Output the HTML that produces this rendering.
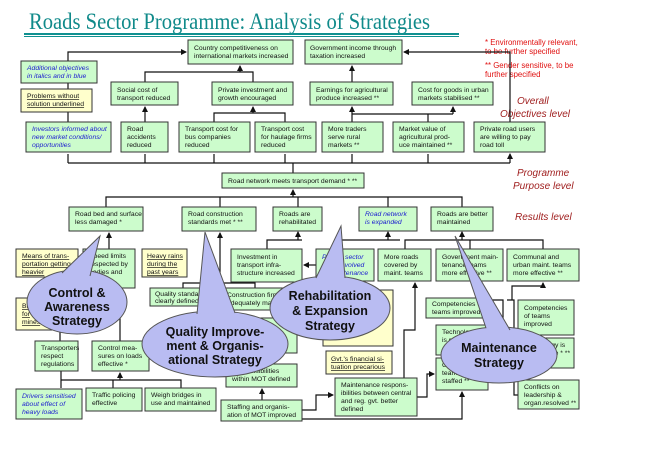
<!DOCTYPE html>
<html><head><meta charset="utf-8"><style>
html,body{margin:0;padding:0;background:#fff;width:649px;height:470px;overflow:hidden}
svg{display:block}
text{font-family:"Liberation Sans",sans-serif;font-size:6.8px;fill:#111}
.g{fill:#ccfccc;stroke:#333;stroke-width:1}
.y{fill:#ffffcc;stroke:#333;stroke-width:1}
.b{fill:#1a1ad0;font-style:italic}
.u{text-decoration:underline}
.r{fill:#e01010;font-size:7.8px}
.lv{fill:#a02020;font-style:italic;font-size:10px}
.bub{fill:#b9bcf2;stroke:#555;stroke-width:1}
.bt{font-size:12.5px;font-weight:bold;fill:#111;text-anchor:middle}
.l{fill:none;stroke:#111;stroke-width:1.2}
</style></head><body>
<svg width="649" height="470" viewBox="0 0 649 470">
<defs><marker id="a" viewBox="0 0 6 6" refX="5" refY="3" markerWidth="5" markerHeight="5" orient="auto"><path d="M0,0L6,3L0,6z" fill="#111"/></marker></defs>
<text x="29" y="29" textLength="401" lengthAdjust="spacingAndGlyphs" style="font-family:'Liberation Serif',serif;font-size:23px;fill:#108a8a">Roads Sector Programme: Analysis of Strategies</text>
<rect x="24" y="33" width="435" height="2" fill="#109090"/>
<rect x="24" y="36" width="435" height="1" fill="#109090"/>

<text class="r" x="485" y="45">* Environmentally relevant,</text>
<text class="r" x="485" y="54">to be further specified</text>
<text class="r" x="485" y="68">** Gender sensitive, to be</text>
<text class="r" x="485" y="77">further specified</text>
<text class="lv" x="517" y="104">Overall</text>
<text class="lv" x="500" y="117">Objectives level</text>
<text class="lv" x="517" y="176">Programme</text>
<text class="lv" x="513" y="189">Purpose level</text>
<text class="lv" x="515" y="220">Results level</text>

<g class="l">
<path d="M68,122V52H186" marker-end="url(#a)"/>
<path d="M510,122V52H404" marker-end="url(#a)"/>
<path d="M145,82V72H253V82"/>
<path d="M240,72V66" marker-end="url(#a)"/>
<path d="M352,82V66" marker-end="url(#a)"/>
<path d="M145,122V107" marker-end="url(#a)"/>
<path d="M214,122V113H285V122M253,113V107" marker-end="url(#a)"/>
<path d="M352,122V107" marker-end="url(#a)"/>
<path d="M352,114H453M428,122V114M453,114V107" marker-end="url(#a)"/>
<path d="M68,163H510M293,173V163"/>
<path d="M68,163V154M145,163V154M214,163V154M285,163V154M352,163V154M428,163V154M510,163V154" marker-end="url(#a)"/>
<path d="M106,207V197H462V207M220,197V207M298,197V207M388,197V207"/>
<path d="M293,197V190" marker-end="url(#a)"/>
<path d="M109,249V233" marker-end="url(#a)"/>
<path d="M183,288V283H255V288M220,283V233" marker-end="url(#a)"/>
<path d="M267,249V240H302"/>
<path d="M298,240V232" marker-end="url(#a)"/>
<path d="M340,249V240H400"/>
<path d="M388,240V232" marker-end="url(#a)"/>
<path d="M405,249V240H543V249"/>
<path d="M470,240V249M462,240V232" marker-end="url(#a)"/>
<path d="M316,265H304" marker-end="url(#a)"/>
<path d="M61,388V357"/>
<path d="M61,357H76" marker-end="url(#a)"/>
<path d="M113,388V380H181V388M61,380H120"/>
<path d="M120,380V373" marker-end="url(#a)"/>
<path d="M60,341V330M120,341V318"/>
<path d="M262,400V389" marker-end="url(#a)"/>
<path d="M302,410H316V395H333" marker-end="url(#a)"/>
<path d="M417,397H427V374H434" marker-end="url(#a)"/>
<path d="M302,419H462V392" marker-end="url(#a)"/>
<path d="M404,378V330H415V283" marker-end="url(#a)"/>
<path d="M488,300H503V330"/>
<path d="M507,300H514V395H518"/>
<path d="M512,300V286H543V283" marker-end="url(#a)"/>
</g>

<g>
<rect class="g" x="188" y="40" width="105" height="24"/><text x="194" y="50">Country competitiveness on</text><text x="194" y="58">international markets increased</text>
<rect class="g" x="305" y="40" width="97" height="24"/><text x="310" y="50">Government income through</text><text x="310" y="58">taxation increased</text>
<rect class="g" x="21" y="61" width="76" height="22"/><text class="b" x="27" y="70">Additional objectives</text><text class="b" x="27" y="78">in italics and in blue</text>
<rect class="y" x="21" y="89" width="71" height="23"/><text class="u" x="27" y="98">Problems without</text><text class="u" x="27" y="106">solution underlined</text>
<rect class="g" x="111" y="82" width="67" height="23"/><text x="117" y="92">Social cost of</text><text x="117" y="100">transport reduced</text>
<rect class="g" x="212" y="82" width="81" height="23"/><text x="218" y="92">Private investment and</text><text x="218" y="100">growth encouraged</text>
<rect class="g" x="310" y="82" width="83" height="23"/><text x="316" y="92">Earnings for agricultural</text><text x="316" y="100">produce increased **</text>
<rect class="g" x="412" y="82" width="81" height="23"/><text x="418" y="92">Cost for goods in urban</text><text x="418" y="100">markets stabilised **</text>

<rect class="g" x="26" y="122" width="85" height="30"/><text class="b" x="32" y="131">Investors informed about</text><text class="b" x="32" y="139">new market conditions/</text><text class="b" x="32" y="147">opportunities</text>
<rect class="g" x="121" y="122" width="47" height="30"/><text x="127" y="131">Road</text><text x="127" y="139">accidents</text><text x="127" y="147">reduced</text>
<rect class="g" x="179" y="122" width="71" height="30"/><text x="185" y="131">Transport cost for</text><text x="185" y="139">bus companies</text><text x="185" y="147">reduced</text>
<rect class="g" x="255" y="122" width="61" height="30"/><text x="261" y="131">Transport cost</text><text x="261" y="139">for haulage firms</text><text x="261" y="147">reduced</text>
<rect class="g" x="322" y="122" width="61" height="30"/><text x="328" y="131">More traders</text><text x="328" y="139">serve rural</text><text x="328" y="147">markets **</text>
<rect class="g" x="393" y="122" width="71" height="30"/><text x="399" y="131">Market value of</text><text x="399" y="139">agricultural prod-</text><text x="399" y="147">uce maintained **</text>
<rect class="g" x="474" y="122" width="71" height="30"/><text x="480" y="131">Private road users</text><text x="480" y="139">are willing to pay</text><text x="480" y="147">road toll</text>

<rect class="g" x="222" y="173" width="142" height="15"/><text x="228" y="183">Road network meets transport demand *  **</text>

<rect class="g" x="69" y="207" width="74" height="24"/><text x="75" y="216">Road bed and surface</text><text x="75" y="224">less damaged *</text>
<rect class="g" x="182" y="207" width="74" height="24"/><text x="188" y="216">Road construction</text><text x="188" y="224">standards met *  **</text>
<rect class="g" x="273" y="207" width="49" height="24"/><text x="279" y="216">Roads are</text><text x="279" y="224">rehabilitated</text>
<rect class="g" x="359" y="207" width="58" height="24"/><text class="b" x="365" y="216">Road network</text><text class="b" x="365" y="224">is expanded</text>
<rect class="g" x="431" y="207" width="62" height="24"/><text x="437" y="216">Roads are better</text><text x="437" y="224">maintained</text>

<rect class="y" x="16" y="249" width="62" height="28"/><text class="u" x="22" y="258">Means of trans-</text><text class="u" x="22" y="266">portation getting</text><text class="u" x="22" y="274">heavier</text>
<rect class="g" x="83" y="249" width="52" height="39"/><text x="89" y="258">Speed limits</text><text x="89" y="266">respected by</text><text x="89" y="274">bodies and</text>
<rect class="y" x="142" y="249" width="45" height="28"/><text class="u" x="147" y="258">Heavy rains</text><text class="u" x="147" y="266">during the</text><text class="u" x="147" y="274">past years</text>
<rect class="g" x="231" y="249" width="71" height="33"/><text x="237" y="259">Investment in</text><text x="237" y="267">transport infra-</text><text x="237" y="275">structure increased</text>
<rect class="g" x="316" y="249" width="58" height="32"/><text class="b" x="322" y="259">Private sector</text><text class="b" x="322" y="267">more involved</text><text class="b" x="322" y="275">in maintenance</text>
<rect class="g" x="378" y="249" width="53" height="32"/><text x="384" y="259">More roads</text><text x="384" y="267">covered by</text><text x="384" y="275">maint. teams</text>
<rect class="g" x="436" y="249" width="67" height="32"/><text x="442" y="259">Government main-</text><text x="442" y="267">tenance teams</text><text x="442" y="275">more effective **</text>
<rect class="g" x="507" y="249" width="72" height="32"/><text x="513" y="259">Communal and</text><text x="513" y="267">urban maint. teams</text><text x="513" y="275">more effective **</text>

<rect class="y" x="16" y="298" width="44" height="32"/><text class="u" x="22" y="308">Bad</text><text class="u" x="22" y="316">for</text><text class="u" x="22" y="324">mines</text>
<rect class="g" x="150" y="288" width="65" height="18"/><text x="155" y="296">Quality standards</text><text x="155" y="303">clearly defined</text>
<rect class="g" x="221" y="288" width="69" height="22"/><text x="227" y="297">Construction firms</text><text x="227" y="305">adequately managed</text>
<rect class="g" x="230" y="318" width="67" height="35"/>
<rect class="y" x="323" y="290" width="70" height="56"/>
<rect class="y" x="326" y="351" width="66" height="23"/><text class="u" x="331" y="361">Gvt.'s financial si-</text><text class="u" x="331" y="369">tuation precarious</text>
<rect class="g" x="426" y="298" width="62" height="20"/><text x="432" y="306">Competencies of</text><text x="432" y="314">teams improved</text>
<rect class="g" x="436" y="325" width="52" height="30"/><text x="442" y="334">Technology</text><text x="442" y="342">is more</text>
<rect class="g" x="436" y="358" width="52" height="32"/><text x="442" y="367">Gov. maint.</text><text x="442" y="375">teams better</text><text x="442" y="383">staffed **</text>
<rect class="g" x="518" y="300" width="56" height="35"/><text x="524" y="310">Competencies</text><text x="524" y="318">of teams</text><text x="524" y="326">improved</text>
<rect class="g" x="518" y="338" width="56" height="30"/><text x="524" y="347">Technology is</text><text x="524" y="355">appropriate * **</text>
<rect class="g" x="518" y="380" width="61" height="29"/><text x="524" y="389">Conflicts on</text><text x="524" y="397">leadership &amp;</text><text x="524" y="405">organ.resolved **</text>

<rect class="g" x="35" y="341" width="43" height="30"/><text x="41" y="350">Transporters</text><text x="41" y="358">respect</text><text x="41" y="366">regulations</text>
<rect class="g" x="92" y="341" width="57" height="30"/><text x="98" y="350">Control mea-</text><text x="98" y="358">sures on loads</text><text x="98" y="366">effective *</text>
<rect class="g" x="226" y="364" width="71" height="23"/><text x="232" y="373">Responsibilities</text><text x="232" y="381">within MOT defined</text>
<rect class="g" x="221" y="400" width="81" height="21"/><text x="227" y="409">Staffing and organis-</text><text x="227" y="417">ation of MOT improved</text>
<rect class="g" x="335" y="378" width="82" height="38"/><text x="341" y="387">Maintenance respons-</text><text x="341" y="395">ibilities between central</text><text x="341" y="403">and reg. gvt. better</text><text x="341" y="411">defined</text>
<rect class="g" x="16" y="389" width="66" height="30"/><text class="b" x="22" y="398">Drivers sensitised</text><text class="b" x="22" y="406">about effect of</text><text class="b" x="22" y="414">heavy loads</text>
<rect class="g" x="86" y="388" width="56" height="23"/><text x="92" y="397">Traffic policing</text><text x="92" y="405">effective</text>
<rect class="g" x="145" y="388" width="71" height="23"/><text x="151" y="397">Weigh bridges in</text><text x="151" y="405">use and maintained</text>
</g>

<ellipse class="bub" cx="77" cy="302" rx="50" ry="32"/>
<path d="M62,273 L100,236 L90,276" fill="#b9bcf2" stroke="#555"/>
<path d="M63,275 L89,277" stroke="#b9bcf2" stroke-width="3"/>
<text class="bt" x="77" y="297">Control &amp;</text><text class="bt" x="77" y="311">Awareness</text><text class="bt" x="77" y="325">Strategy</text>

<ellipse class="bub" cx="215" cy="344" rx="73" ry="33"/>
<path d="M197,314 L205,232 L235,313" fill="#b9bcf2" stroke="#555"/>
<text class="bt" x="215" y="336">Quality Improve-</text><text class="bt" x="215" y="350">ment &amp; Organis-</text><text class="bt" x="215" y="364">ational Strategy</text>

<ellipse class="bub" cx="330" cy="308" rx="60" ry="32"/>
<path d="M316,278 L341,226 L345,278" fill="#b9bcf2" stroke="#555"/>
<text class="bt" x="330" y="300">Rehabilitation</text><text class="bt" x="330" y="315">&amp; Expansion</text><text class="bt" x="330" y="330">Strategy</text>

<ellipse class="bub" cx="499" cy="355" rx="58" ry="28"/>
<path d="M486,328 L455,236 L510,330" fill="#b9bcf2" stroke="#555"/>
<text class="bt" x="499" y="352">Maintenance</text><text class="bt" x="499" y="367">Strategy</text>
</svg>
</body></html>
